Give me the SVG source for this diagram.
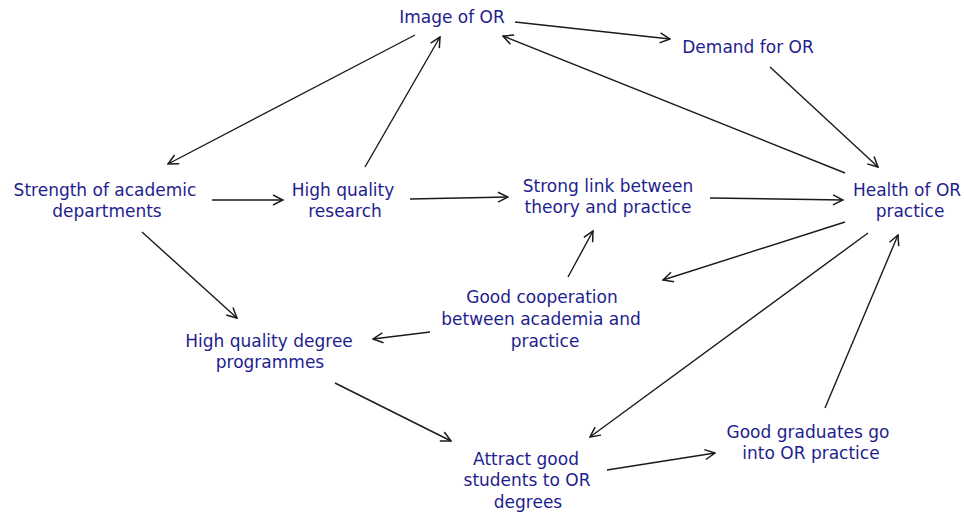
<svg xmlns="http://www.w3.org/2000/svg" width="964" height="514" viewBox="0 0 964 514">
<style>
text{font-family:"DejaVu Sans","Liberation Sans",sans-serif;font-size:17px;fill:#1e1e8e;text-anchor:middle}
.c line{stroke:#1a1a1a;stroke-width:1.4;fill:none;marker-end:url(#ah)}
</style>
<defs>
<marker id="ah" viewBox="0 0 12 12" refX="11" refY="6" markerWidth="12" markerHeight="12" markerUnits="userSpaceOnUse" orient="auto">
<path d="M1,1 L11,6 L1,11" fill="none" stroke="#1a1a1a" stroke-width="1.5"/>
</marker>
</defs>
<rect width="964" height="514" fill="#fff"/>
<g class="c" id="connectors">
<line x1="515" y1="22" x2="670" y2="39"/>
<line x1="770" y1="67" x2="878" y2="167"/>
<line x1="845" y1="173" x2="503" y2="36"/>
<line x1="415" y1="35" x2="168" y2="164"/>
<line x1="365" y1="167" x2="440" y2="37"/>
<line x1="212" y1="200" x2="283" y2="200"/>
<line x1="410" y1="199" x2="508" y2="197"/>
<line x1="710" y1="198" x2="843" y2="200"/>
<line x1="845" y1="222" x2="663" y2="280"/>
<line x1="568" y1="277" x2="593" y2="231"/>
<line x1="430" y1="332" x2="373" y2="339"/>
<line x1="142" y1="232" x2="237" y2="318"/>
<line x1="335" y1="383" x2="451" y2="441"/>
<line x1="868" y1="233" x2="590" y2="437"/>
<line x1="607" y1="470" x2="715" y2="453"/>
<line x1="825" y1="408" x2="898" y2="235"/>
</g>
<g id="image"><text x="452" y="23">Image of OR</text></g>
<g id="demand"><text x="748" y="53">Demand for OR</text></g>
<g id="strength"><text x="105" y="196">Strength of academic</text><text x="107" y="217">departments</text></g>
<g id="research"><text x="343" y="196">High quality</text><text x="345" y="217">research</text></g>
<g id="stronglink"><text x="608" y="192">Strong link between</text><text x="608" y="213">theory and practice</text></g>
<g id="health"><text x="907" y="196">Health of OR</text><text x="910" y="217">practice</text></g>
<g id="cooperation"><text x="542" y="303">Good cooperation</text><text x="541" y="325">between academia and</text><text x="545" y="347">practice</text></g>
<g id="degree"><text x="269" y="347">High quality degree</text><text x="270" y="368">programmes</text></g>
<g id="attract"><text x="526" y="465">Attract good</text><text x="527" y="486">students to OR</text><text x="528" y="508">degrees</text></g>
<g id="graduates"><text x="808" y="438">Good graduates go</text><text x="811" y="459">into OR practice</text></g>
</svg>
